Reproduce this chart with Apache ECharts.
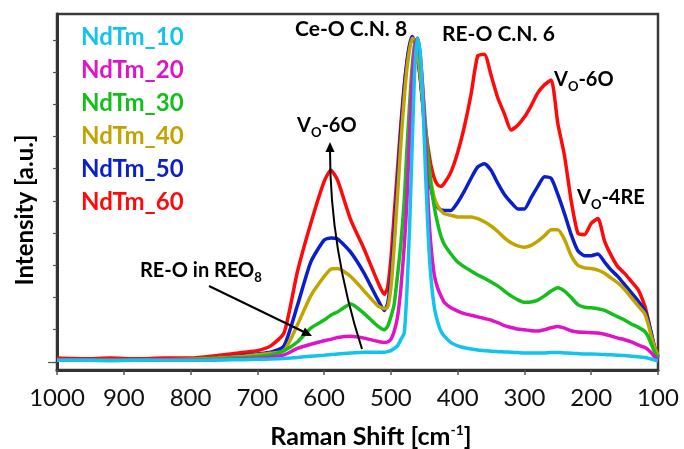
<!DOCTYPE html>
<html>
<head>
<meta charset="utf-8">
<script src="https://cdn.jsdelivr.net/npm/echarts@6/dist/echarts.min.js"></script>
<style>
  html, body { margin: 0; padding: 0; background: #fff; }
  #chart { width: 684px; height: 449px; }
</style>
</head>
<body>
<div id="chart"></div>
<script>
// Raman shift (cm-1), shared by all spectra
const wavenumbers = [1000, 960, 920, 880, 840, 800, 760, 720,
  700, 680, 660, 640, 620, 600, 590, 580, 560, 540, 520,
  510, 505, 500, 495, 490, 485, 480, 476, 472, 468, 464, 460, 456, 452, 448, 444, 440, 435, 430, 425, 420,
  410, 400, 390, 380, 370, 360, 350, 340, 330, 320, 310, 300, 290, 280, 270, 260, 250, 240, 230, 220,
  210, 200, 190, 180, 170, 160, 150, 140, 130, 120,
  115, 110, 105, 100];

const nd10 = [0.05, 0.05, 0.04, 0.05, 0.05, 0.05, 0.06, 0.07,
  0.08, 0.09, 0.11, 0.14, 0.18, 0.21, 0.23, 0.25, 0.28, 0.3, 0.3,
  0.3, 0.32, 0.35, 0.42, 0.5, 0.7, 0.9, 2.2, 4.2, 6.8, 9.2, 10.05, 9.6, 8.0, 5.8, 3.9, 2.6, 1.7, 1.25, 0.95, 0.8,
  0.6, 0.5, 0.44, 0.4, 0.37, 0.35, 0.33, 0.32, 0.31, 0.3, 0.29, 0.28, 0.28, 0.28, 0.28, 0.29, 0.29, 0.28, 0.27, 0.26,
  0.25, 0.25, 0.24, 0.23, 0.22, 0.21, 0.2, 0.18, 0.16, 0.14,
  0.12, 0.09, 0.06, 0.04];

const nd20 = [0.05, 0.06, 0.05, 0.05, 0.06, 0.06, 0.07, 0.1,
  0.12, 0.15, 0.22, 0.42, 0.55, 0.66, 0.7, 0.76, 0.8, 0.74, 0.64,
  0.6, 0.62, 0.7, 0.95, 1.4, 2.3, 3.6, 5.0, 7.0, 8.8, 9.8, 10.05, 9.5, 8.4, 6.8, 4.8, 3.6, 2.7, 2.3, 2.05, 1.85,
  1.68, 1.58, 1.5, 1.45, 1.4, 1.35, 1.3, 1.22, 1.13, 1.07, 1.02, 1.0, 0.97, 0.96, 1.0, 1.06, 1.1, 1.05, 0.97, 0.93,
  0.92, 0.91, 0.9, 0.86, 0.8, 0.74, 0.69, 0.62, 0.53, 0.45,
  0.38, 0.28, 0.16, 0.07];

const nd30 = [0.06, 0.07, 0.06, 0.07, 0.06, 0.07, 0.1, 0.14,
  0.17, 0.22, 0.35, 0.62, 1.05, 1.3, 1.45, 1.55, 1.8, 1.5, 1.12,
  1.0, 1.1, 1.4, 1.8, 2.7, 3.7, 5.0, 6.6, 8.0, 9.2, 9.9, 10.05, 9.4, 8.4, 7.3, 6.3, 5.5, 4.8, 4.3, 3.9, 3.65,
  3.35, 3.1, 2.95, 2.82, 2.7, 2.6, 2.48, 2.36, 2.2, 2.05, 1.93, 1.85, 1.86, 1.92, 2.05, 2.2, 2.3, 2.2, 2.0, 1.78,
  1.7, 1.68, 1.65, 1.6, 1.5, 1.4, 1.3, 1.18, 1.08, 0.95,
  0.8, 0.55, 0.3, 0.12];

const nd40 = [0.07, 0.06, 0.07, 0.06, 0.07, 0.08, 0.12, 0.18,
  0.22, 0.27, 0.35, 1.15, 2.05, 2.65, 2.88, 2.9, 2.65, 2.2, 1.75,
  1.65, 1.7, 2.3, 3.6, 5.2, 6.8, 8.2, 9.1, 9.7, 10.05, 10.0, 9.6, 8.9, 8.0, 7.0, 6.2, 5.6, 5.1, 4.85, 4.7, 4.6,
  4.55, 4.5, 4.5, 4.5, 4.45, 4.35, 4.22, 4.05, 3.85, 3.7, 3.6, 3.56, 3.62, 3.75, 3.92, 4.1, 4.1, 3.8, 3.3, 3.0,
  2.92, 2.9, 2.85, 2.75, 2.6, 2.45, 2.25, 2.0, 1.75, 1.5,
  1.2, 0.8, 0.45, 0.2];

const nd50 = [0.06, 0.07, 0.06, 0.07, 0.06, 0.07, 0.12, 0.2,
  0.25, 0.3, 0.5, 1.75, 3.1, 3.78, 3.85, 3.82, 3.4, 2.75, 1.95,
  1.6, 1.8, 2.6, 4.0, 5.6, 7.2, 8.5, 9.3, 9.85, 10.1, 9.95, 9.5, 8.8, 7.9, 6.9, 6.0, 5.4, 5.0, 4.8, 4.72, 4.7,
  4.7, 4.95, 5.3, 5.7, 6.05, 6.15, 5.95, 5.55, 5.2, 4.95, 4.75, 4.75, 5.1, 5.45, 5.75, 5.7, 5.2, 4.6, 3.95, 3.45,
  3.3, 3.3, 3.35, 3.1, 2.85, 2.65, 2.4, 2.15, 1.9, 1.6,
  1.3, 0.9, 0.45, 0.15];

const nd60 = [0.12, 0.1, 0.12, 0.1, 0.12, 0.12, 0.2, 0.3,
  0.35, 0.5, 0.9, 2.8, 4.3, 5.6, 5.95, 5.65, 4.4, 3.5, 2.5,
  2.1, 2.3, 3.2, 4.6, 6.0, 7.4, 8.6, 9.3, 9.8, 10.05, 9.95, 9.5, 8.8, 8.0, 7.2, 6.6, 6.1, 5.7, 5.5, 5.45, 5.55,
  5.9, 6.5, 7.3, 8.3, 9.5, 9.55, 8.9, 8.2, 7.7, 7.2, 7.35, 7.6, 7.95, 8.35, 8.6, 8.75, 7.4, 6.4, 5.0, 4.0,
  3.95, 4.3, 4.45, 3.75, 3.3, 2.95, 2.75, 2.5, 2.25, 1.75,
  1.35, 0.85, 0.45, 0.2];

const seriesNames = ['NdTm_10', 'NdTm_20', 'NdTm_30', 'NdTm_40', 'NdTm_50', 'NdTm_60'];
const seriesValues = [nd10, nd20, nd30, nd40, nd50, nd60];
const seriesColors = ['#12C3EC', '#DE14C6', '#14BF1C', '#C2A400', '#0A1ECC', '#FF0A0A'];
const yTickValues = [0, 1, 2, 3, 4, 5, 6, 7, 8, 9, 10];

const FONT = 'Lato';
const chart = echarts.init(document.getElementById('chart'));

function arrowHead(tx, ty, fx, fy) {
  const dx = tx - fx, dy = ty - fy;
  const len = Math.sqrt(dx * dx + dy * dy);
  const ux = dx / len, uy = dy / len;
  const bx = tx - ux * 10, by = ty - uy * 10;
  return [[tx, ty], [bx - uy * 4.5, by + ux * 4.5], [bx + uy * 4.5, by - ux * 4.5]];
}

const subRich = {
  v: {fontFamily: FONT, fontWeight: 'bold', fontSize: 20, lineHeight: 26, fill: '#000'},
  w: {fontFamily: FONT, fontWeight: 'bold', fontSize: 21, lineHeight: 26, fill: '#000'},
  s: {fontFamily: FONT, fontWeight: 'bold', fontSize: 13, lineHeight: 13, verticalAlign: 'bottom', fill: '#000'}
};

function label(text, x, y) {
  return {
    type: 'text', x: x, y: y, z: 100,
    style: {text: text, rich: subRich, verticalAlign: 'middle', align: 'left'}
  };
}

const series = [];
for (let i = seriesNames.length - 1; i >= 0; i--) {
  series.push({
    name: seriesNames[i],
    type: 'line',
    data: wavenumbers.map((w, k) => [w, seriesValues[i][k]]),
    showSymbol: false,
    smooth: 0.2,
    lineStyle: {color: seriesColors[i], width: 3.5},
    itemStyle: {color: seriesColors[i]}
  });
}

chart.setOption({
  animation: false,
  grid: {left: 57, right: 26, top: 14, bottom: 79, show: true, borderColor: '#3a3a3a', borderWidth: 2.5, outerBoundsMode: 'none'},
  legend: {
    orient: 'vertical', left: 70, top: 20,
    itemWidth: 0, itemHeight: 0, itemGap: 8, selectedMode: false,
    textStyle: {fontFamily: FONT, fontWeight: 'bold', fontSize: 24, lineHeight: 25},
    data: seriesNames.map((n, i) => ({name: n, textStyle: {color: seriesColors[i]}}))
  },
  xAxis: {
    type: 'value', inverse: true, min: 100, max: 1000, interval: 100,
    axisLine: {onZero: false, lineStyle: {color: '#333', width: 3}},
    axisTick: {show: true, length: 5, lineStyle: {color: '#555', width: 1.5}},
    axisLabel: {fontFamily: FONT, fontSize: 24, color: '#111', margin: 16, formatter: v => String(v)},
    splitLine: {show: false}
  },
  yAxis: [{
    type: 'value', min: -0.25, max: 10.8,
    axisLine: {show: true, onZero: false, lineStyle: {color: '#333', width: 3}},
    axisTick: {show: true, length: 4, customValues: yTickValues, lineStyle: {color: '#555', width: 1.2}},
    axisLabel: {show: false},
    splitLine: {show: false}
  }, {
    type: 'value', min: -0.25, max: 10.8, position: 'left',
    axisLine: {show: false, onZero: false},
    axisTick: {show: true, length: 9, customValues: [0], lineStyle: {color: '#555', width: 1.2}},
    axisLabel: {show: false},
    splitLine: {show: false}
  }],
  graphic: [
    {
      type: 'text', x: 371, y: 437,
      style: {
        text: '{t|Raman Shift [cm}{s|-1}{t|]}', align: 'center', verticalAlign: 'middle',
        rich: {
          t: {fontFamily: FONT, fontWeight: 'bold', fontSize: 25, lineHeight: 28, fill: '#000'},
          s: {fontFamily: FONT, fontWeight: 'bold', fontSize: 14, lineHeight: 14, verticalAlign: 'top', fill: '#000'}
        }
      }
    },
    {
      type: 'text', x: 25, y: 210, rotation: Math.PI / 2,
      style: {text: 'Intensity [a.u.]', align: 'center', verticalAlign: 'middle',
        font: 'bold 24px ' + FONT, fill: '#000'}
    },
    label('{w|Ce-O C.N. 8}', 295, 29),
    label('{w|RE-O C.N. 6}', 442, 34),
    label('{v|V}{s|O}{v|-6O}', 554, 80),
    label('{v|V}{s|O}{v|-4RE}', 577, 198),
    label('{v|V}{s|O}{v|-6O}', 297, 126),
    label('{v|RE-O in REO}{s|8}', 140, 271),
    {
      type: 'bezierCurve', z: 100,
      shape: {x1: 362, y1: 349, cpx1: 330, cpy1: 250, x2: 330, y2: 150},
      style: {stroke: '#000', lineWidth: 2, fill: null}
    },
    {
      type: 'polygon', z: 100,
      shape: {points: arrowHead(330, 142, 330, 160)},
      style: {fill: '#000'}
    },
    {
      type: 'line', z: 100,
      shape: {x1: 209, y1: 286, x2: 304, y2: 332},
      style: {stroke: '#000', lineWidth: 2}
    },
    {
      type: 'polygon', z: 100,
      shape: {points: arrowHead(312, 336, 209, 286)},
      style: {fill: '#000'}
    }
  ],
  series: series
});
</script>
</body>
</html>
